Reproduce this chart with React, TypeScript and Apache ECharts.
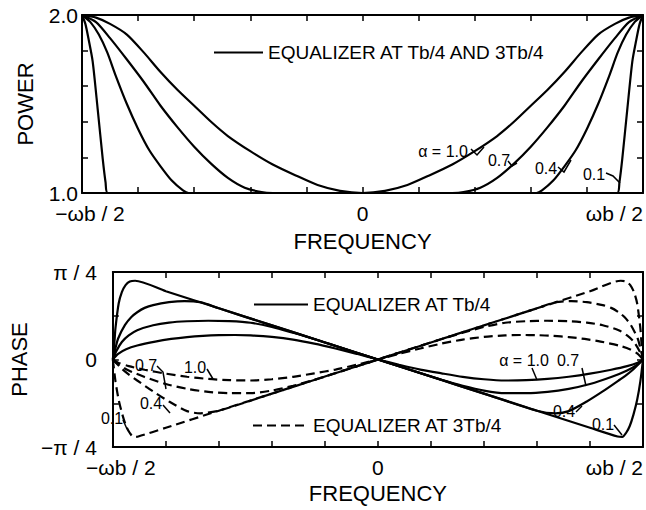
import React, { useEffect, useRef } from 'react';
import * as echarts from 'echarts';

const FONT = "'Liberation Sans', Arial, Helvetica, sans-serif";

// ---- tick labels ----
const X_TICK_VALUES = [-0.5, 0, 0.5];
const X_TICK_LABELS = ['−ωb / 2', '0', 'ωb / 2'];
const POWER_TICK_VALUES = [1, 2];
const POWER_TICK_LABELS = ['1.0', '2.0'];
const PHASE_TICK_VALUES = [-1, 0, 1];
const PHASE_TICK_LABELS = ['−π / 4', '0', 'π / 4'];

const LEGEND_TOP = 'EQUALIZER AT Tb/4 AND 3Tb/4';
const LEGEND_SOLID = 'EQUALIZER AT Tb/4';
const LEGEND_DASH = 'EQUALIZER AT 3Tb/4';

const TOP_ALPHA_TEXTS = ['α = 1.0', '0.7', '0.4', '0.1'];
const BOTTOM_DASH_TEXTS = ['0.7', '1.0', '0.4', '0.1'];
const BOTTOM_SOLID_TEXTS = ['α = 1.0', '0.7', '0.4', '0.1'];

// ---- power (x in units of ωb, y power) ----
const POWER_A10 = [[-0.5,2.0],[-0.475,1.985],[-0.45,1.95],[-0.42,1.89],[-0.39,1.79],[-0.36,1.68],[-0.33,1.58],[-0.3,1.49],[-0.27,1.4],[-0.24,1.32],[-0.2,1.235],[-0.16,1.16],[-0.12,1.1],[-0.08,1.045],[-0.04,1.012],[0,1.0],[0.04,1.012],[0.08,1.045],[0.12,1.1],[0.16,1.16],[0.2,1.235],[0.24,1.32],[0.27,1.4],[0.3,1.49],[0.33,1.58],[0.36,1.68],[0.39,1.79],[0.42,1.89],[0.45,1.95],[0.475,1.985],[0.5,2.0]];
const POWER_A07 = [[-0.5,2.0],[-0.475,1.96],[-0.45,1.87],[-0.42,1.75],[-0.39,1.625],[-0.36,1.49],[-0.33,1.37],[-0.3,1.26],[-0.27,1.165],[-0.24,1.085],[-0.21,1.03],[-0.18,1.005],[-0.16,1.0],[0.16,1.0],[0.18,1.005],[0.21,1.03],[0.24,1.085],[0.27,1.165],[0.3,1.26],[0.33,1.37],[0.36,1.49],[0.39,1.625],[0.42,1.75],[0.45,1.87],[0.475,1.96],[0.5,2.0]];
const POWER_A04 = [[-0.5,2.0],[-0.485,1.96],[-0.47,1.89],[-0.455,1.79],[-0.44,1.66],[-0.42,1.5],[-0.4,1.36],[-0.38,1.24],[-0.36,1.15],[-0.34,1.07],[-0.32,1.015],[-0.31,1.0],[0.31,1.0],[0.32,1.015],[0.34,1.07],[0.36,1.15],[0.38,1.24],[0.4,1.36],[0.42,1.5],[0.44,1.66],[0.455,1.79],[0.47,1.89],[0.485,1.96],[0.5,2.0]];
const POWER_A01 = [[-0.5,2.0],[-0.494,1.95],[-0.488,1.86],[-0.481,1.74],[-0.472,1.47],[-0.463,1.19],[-0.458,1.06],[-0.454,1.0],[0.454,1.0],[0.458,1.06],[0.463,1.19],[0.472,1.47],[0.481,1.74],[0.488,1.86],[0.494,1.95],[0.5,2.0]];

// ---- phase (y in units of π/4) ----
const PHASE_SOLID_A10 = [[-0.5,0],[-0.49,0.065],[-0.475,0.118],[-0.454,0.16],[-0.42,0.205],[-0.39,0.235],[-0.36,0.256],[-0.33,0.27],[-0.3,0.278],[-0.27,0.28],[-0.24,0.276],[-0.2,0.258],[-0.16,0.228],[-0.12,0.182],[-0.08,0.126],[-0.04,0.065],[0,0],[0.04,-0.06],[0.08,-0.115],[0.12,-0.158],[0.16,-0.198],[0.2,-0.226],[0.24,-0.24],[0.28,-0.236],[0.32,-0.222],[0.36,-0.197],[0.4,-0.162],[0.44,-0.117],[0.47,-0.076],[0.49,-0.036],[0.5,0]];
const PHASE_SOLID_A07 = [[-0.5,0],[-0.493,0.1],[-0.483,0.2],[-0.47,0.275],[-0.454,0.335],[-0.424,0.392],[-0.394,0.422],[-0.36,0.437],[-0.32,0.443],[-0.28,0.438],[-0.24,0.42],[-0.2,0.372],[-0.16,0.305],[-0.12,0.234],[-0.08,0.156],[-0.04,0.078],[0,0],[0.04,-0.078],[0.08,-0.156],[0.12,-0.232],[0.16,-0.3],[0.2,-0.355],[0.24,-0.385],[0.28,-0.385],[0.32,-0.37],[0.36,-0.335],[0.4,-0.28],[0.44,-0.2],[0.47,-0.125],[0.49,-0.055],[0.5,0]];
const PHASE_SOLID_A04 = [[-0.5,0],[-0.495,0.13],[-0.49,0.24],[-0.477,0.395],[-0.465,0.485],[-0.454,0.54],[-0.44,0.59],[-0.424,0.622],[-0.394,0.655],[-0.365,0.668],[-0.335,0.655],[-0.3,0.585],[-0.2,0.39],[-0.1,0.195],[0,0],[0.1,-0.195],[0.2,-0.39],[0.3,-0.585],[0.335,-0.615],[0.36,-0.59],[0.394,-0.48],[0.424,-0.365],[0.454,-0.24],[0.469,-0.175],[0.483,-0.105],[0.5,0]];
const PHASE_SOLID_A01 = [[-0.5,0],[-0.497,0.2],[-0.495,0.36],[-0.489,0.64],[-0.483,0.77],[-0.476,0.85],[-0.468,0.892],[-0.458,0.9],[-0.4,0.78],[-0.3,0.585],[-0.2,0.39],[-0.1,0.195],[0,0],[0.1,-0.195],[0.2,-0.39],[0.3,-0.585],[0.4,-0.78],[0.452,-0.88],[0.461,-0.885],[0.468,-0.84],[0.475,-0.76],[0.482,-0.63],[0.489,-0.46],[0.495,-0.25],[0.5,0]];

const PHASE_DASH_A10 = [[-0.5,0],[-0.49,-0.036],[-0.47,-0.076],[-0.44,-0.117],[-0.4,-0.162],[-0.36,-0.197],[-0.32,-0.222],[-0.28,-0.236],[-0.24,-0.24],[-0.2,-0.226],[-0.16,-0.198],[-0.12,-0.158],[-0.08,-0.115],[-0.04,-0.06],[0,0],[0.04,0.065],[0.08,0.126],[0.12,0.182],[0.16,0.228],[0.2,0.258],[0.24,0.276],[0.27,0.28],[0.3,0.278],[0.33,0.27],[0.36,0.256],[0.39,0.235],[0.42,0.205],[0.454,0.16],[0.475,0.118],[0.49,0.065],[0.5,0]];
const PHASE_DASH_A07 = [[-0.5,0],[-0.49,-0.055],[-0.47,-0.125],[-0.44,-0.2],[-0.4,-0.28],[-0.36,-0.335],[-0.32,-0.37],[-0.28,-0.385],[-0.24,-0.385],[-0.2,-0.355],[-0.16,-0.3],[-0.12,-0.232],[-0.08,-0.156],[-0.04,-0.078],[0,0],[0.04,0.078],[0.08,0.156],[0.12,0.234],[0.16,0.305],[0.2,0.372],[0.24,0.42],[0.28,0.438],[0.32,0.443],[0.36,0.437],[0.394,0.422],[0.424,0.392],[0.454,0.335],[0.47,0.275],[0.483,0.2],[0.493,0.1],[0.5,0]];
const PHASE_DASH_A04 = [[-0.5,0],[-0.483,-0.105],[-0.469,-0.175],[-0.454,-0.24],[-0.424,-0.365],[-0.394,-0.48],[-0.36,-0.59],[-0.335,-0.615],[-0.3,-0.585],[-0.2,-0.39],[-0.1,-0.195],[0,0],[0.1,0.195],[0.2,0.39],[0.3,0.585],[0.335,0.655],[0.365,0.668],[0.394,0.655],[0.424,0.622],[0.44,0.59],[0.454,0.54],[0.465,0.485],[0.477,0.395],[0.49,0.24],[0.495,0.13],[0.5,0]];
const PHASE_DASH_A01 = [[-0.5,0],[-0.495,-0.25],[-0.489,-0.46],[-0.482,-0.63],[-0.475,-0.76],[-0.468,-0.84],[-0.461,-0.885],[-0.452,-0.88],[-0.4,-0.78],[-0.3,-0.585],[-0.2,-0.39],[-0.1,-0.195],[0,0],[0.1,0.195],[0.2,0.39],[0.3,0.585],[0.4,0.78],[0.458,0.9],[0.468,0.892],[0.476,0.85],[0.483,0.77],[0.489,0.64],[0.495,0.36],[0.497,0.2],[0.5,0]];

const pick = (values: number[], labels: string[], richFirst = false) => (v: number) => {
  const i = values.findIndex((t) => Math.abs(t - v) < 1e-6);
  if (i < 0) return '';
  if (richFirst && i === 0) return `{l|${labels[i]}}`;
  return labels[i];
};

const BLACK = '#000';
const CLEAR = 'rgba(0,0,0,0)';
const axisLine = { show: true, onZero: false, lineStyle: { color: BLACK, width: 2 } };
const axisTick = { show: true, inside: true, length: 6, lineStyle: { color: BLACK, width: 1.5 } };
const labelText = { fontSize: 21, fontFamily: FONT, color: BLACK };
const nameText = { fontSize: 22, fontFamily: FONT, color: BLACK };

function xAxes(gridIndex: number, nameGap: number) {
  return [
    {
      gridIndex, type: 'value', min: -0.5, max: 0.5, interval: 0.1, position: 'bottom',
      axisLine, axisTick, splitLine: { show: false },
      axisLabel: {
        ...labelText, margin: 10, alignMaxLabel: 'right',
        formatter: pick(X_TICK_VALUES, X_TICK_LABELS, true),
        rich: { l: { ...labelText, padding: [0, 0, 0, 16] } },
      },
      name: 'FREQUENCY', nameLocation: 'middle', nameGap, nameTextStyle: nameText,
    },
    {
      gridIndex, type: 'value', min: -0.5, max: 0.5, interval: 0.1, position: 'top',
      axisLine, axisTick, splitLine: { show: false }, axisLabel: { show: false },
    },
  ];
}

function yAxes(gridIndex: number, min: number, max: number, interval: number, vals: number[], labs: string[], margin: number, name: string, nameGap: number) {
  return [
    {
      gridIndex, type: 'value', min, max, interval, position: 'left',
      axisLine, axisTick, splitLine: { show: false },
      axisLabel: { ...labelText, margin, formatter: pick(vals, labs) },
      name, nameLocation: 'middle', nameGap, nameTextStyle: nameText,
    },
    {
      gridIndex, type: 'value', min, max, interval, position: 'right',
      axisLine, axisTick, splitLine: { show: false }, axisLabel: { show: false },
    },
  ];
}

function line(name: string, data: number[][], xi: number, yi: number, dashed = false) {
  return {
    type: 'line', name, data, xAxisIndex: xi, yAxisIndex: yi,
    symbol: 'none', showSymbol: false, smooth: 0.25, silent: true,
    color: BLACK,
    lineStyle: { color: BLACK, width: 2.2, type: dashed ? [9, 5] : 'solid' },
  };
}

const text = (t: string, x: number, y: number) => ({
  type: 'text', x, y, silent: true,
  style: { text: t, fontSize: 16, fontFamily: FONT, fill: BLACK, align: 'center', verticalAlign: 'middle' },
});
const leader = (pts: number[][]) => ({
  type: 'polyline', silent: true, shape: { points: pts },
  style: { stroke: BLACK, lineWidth: 1.5, fill: 'none' },
});

// annotation layout (pixels)
const TOP_TEXT_POS = [[443, 151], [499, 160], [546, 168], [594, 174]];
const TOP_LEADERS = [
  [[471, 149], [477, 155], [484, 147]],
  [[508, 161], [512, 166], [517, 163]],
  [[558, 167], [564, 172], [571, 160]],
  [[606, 173], [613, 176], [620, 183]],
];
const BOT_DASH_POS = [[146, 365], [195, 367], [151, 403], [112, 418]];
const BOT_DASH_LEADERS = [
  [[157, 366], [163, 372], [166, 389]],
  [[207, 369], [213, 379]],
  [[163, 405], [170, 413]],
  [[123, 420], [127, 429]],
];
const BOT_SOLID_POS = [[524, 360], [568, 360], [564, 411], [603, 424]];
const BOT_SOLID_LEADERS = [
  [[532, 368], [537, 380]],
  [[582, 368], [586, 386]],
  [[576, 412], [582, 406]],
  [[614, 425], [622, 435]],
];

export default function App() {
  const ref = useRef<HTMLDivElement>(null);
  useEffect(() => {
    const chart = echarts.init(ref.current as HTMLDivElement, null, { renderer: 'svg' });
    const legendCommon = {
      selectedMode: false, itemHeight: 14,
      itemStyle: { color: CLEAR, borderColor: CLEAR, borderWidth: 0 },
      textStyle: { fontSize: 19, fontFamily: FONT, color: BLACK },
    };
    const option: any = {
      animation: false,
      backgroundColor: '#fff',
      textStyle: { fontFamily: FONT },
      grid: [
        { left: 82, top: 15, width: 562, height: 178 },
        { left: 81, top: 272, width: 563, height: 175 },
      ],
      xAxis: [...xAxes(0, 37), ...xAxes(1, 35)],
      yAxis: [
        ...yAxes(0, 1, 2, 0.2, POWER_TICK_VALUES, POWER_TICK_LABELS, 4, 'POWER', 46),
        ...yAxes(1, -1, 1, 0.5, PHASE_TICK_VALUES, PHASE_TICK_LABELS, 16, 'PHASE', 46),
      ],
      legend: [
        { ...legendCommon, data: [LEGEND_TOP], left: 208, top: 38, itemWidth: 49 },
        { ...legendCommon, data: [LEGEND_SOLID], left: 248, top: 290, itemWidth: 54 },
        { ...legendCommon, data: [LEGEND_DASH], left: 247, top: 411, itemWidth: 55 },
      ],
      series: [
        line(LEGEND_TOP, POWER_A10, 0, 0),
        line(LEGEND_TOP, POWER_A07, 0, 0),
        line(LEGEND_TOP, POWER_A04, 0, 0),
        line(LEGEND_TOP, POWER_A01, 0, 0),
        line(LEGEND_SOLID, PHASE_SOLID_A10, 2, 2),
        line(LEGEND_SOLID, PHASE_SOLID_A07, 2, 2),
        line(LEGEND_SOLID, PHASE_SOLID_A04, 2, 2),
        line(LEGEND_SOLID, PHASE_SOLID_A01, 2, 2),
        line(LEGEND_DASH, PHASE_DASH_A10, 2, 2, true),
        line(LEGEND_DASH, PHASE_DASH_A07, 2, 2, true),
        line(LEGEND_DASH, PHASE_DASH_A04, 2, 2, true),
        line(LEGEND_DASH, PHASE_DASH_A01, 2, 2, true),
      ],
      graphic: [
        ...TOP_ALPHA_TEXTS.map((t, i) => text(t, TOP_TEXT_POS[i][0], TOP_TEXT_POS[i][1])),
        ...TOP_LEADERS.map(leader),
        ...BOTTOM_DASH_TEXTS.map((t, i) => text(t, BOT_DASH_POS[i][0], BOT_DASH_POS[i][1])),
        ...BOT_DASH_LEADERS.map(leader),
        ...BOTTOM_SOLID_TEXTS.map((t, i) => text(t, BOT_SOLID_POS[i][0], BOT_SOLID_POS[i][1])),
        ...BOT_SOLID_LEADERS.map(leader),
      ],
    };
    chart.setOption(option);
    return () => chart.dispose();
  }, []);
  return (
    <div
      ref={ref}
      style={{ position: 'absolute', left: 0, top: 0, width: 646, height: 510, background: '#fff' }}
    />
  );
}
